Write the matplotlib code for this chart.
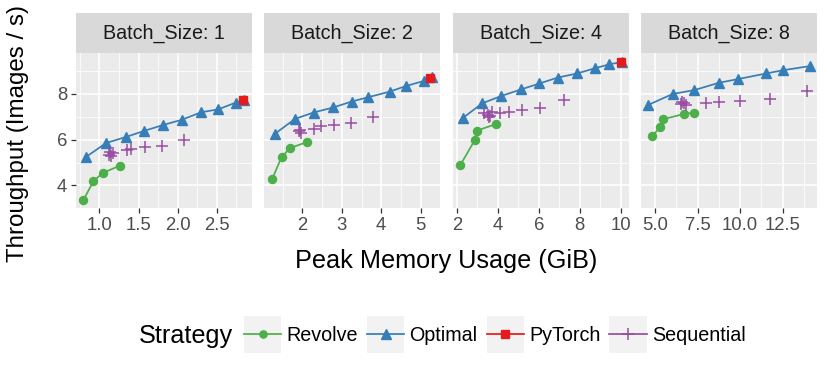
import matplotlib
matplotlib.use("Agg")
import matplotlib.pyplot as plt
from matplotlib.lines import Line2D
from matplotlib.patches import Rectangle
from matplotlib.legend_handler import HandlerLine2D

plt.rcParams['font.family'] = ['Liberation Sans', 'DejaVu Sans']

# ---------------- data ----------------
batch_sizes = [1, 2, 4, 8]
strategies = ["Revolve", "Optimal", "PyTorch", "Sequential"]

revolve_x = [[0.795, 0.923, 1.043, 1.265],
             [1.234, 1.47, 1.69, 2.12],
             [2.17, 2.88, 2.98, 3.89],
             [4.84, 5.30, 5.49, 6.72, 7.31]]
revolve_y = [[3.36, 4.19, 4.55, 4.87],
             [4.29, 5.25, 5.64, 5.90],
             [4.90, 6.00, 6.40, 6.68],
             [6.17, 6.55, 6.90, 7.13, 7.19]]

optimal_x = [[0.83, 1.086, 1.34, 1.575, 1.81, 2.05, 2.30, 2.52, 2.74, 2.85],
             [1.30, 1.81, 2.28, 2.78, 3.25, 3.67, 4.21, 4.63, 5.08, 5.29],
             [2.27, 3.23, 4.15, 5.13, 6.03, 6.93, 7.88, 8.72, 9.45, 10.08],
             [4.59, 6.03, 7.31, 8.75, 9.87, 11.55, 12.53, 14.11]]
optimal_y = [[5.25, 5.86, 6.12, 6.39, 6.64, 6.87, 7.20, 7.33, 7.62, 7.74],
             [6.26, 6.91, 7.19, 7.41, 7.67, 7.86, 8.10, 8.35, 8.57, 8.75],
             [6.94, 7.59, 7.91, 8.20, 8.46, 8.72, 8.90, 9.12, 9.30, 9.40],
             [7.52, 8.00, 8.17, 8.49, 8.65, 8.90, 9.04, 9.22]]

pytorch_x = [[2.83], [5.23], [9.99], []]
pytorch_y = [[7.74], [8.71], [9.40], []]

sequential_x = [[1.12, 1.15, 1.17, 1.14, 1.35, 1.40, 1.58, 1.80, 2.08],
                [1.93, 1.95, 1.92, 2.29, 2.48, 2.79, 3.23, 3.80],
                [3.30, 3.50, 3.60, 3.70, 3.55, 4.10, 4.54, 5.16, 6.06, 7.21],
                [6.50, 6.70, 6.80, 6.60, 8.00, 8.75, 9.97, 11.75, 13.92]]
sequential_y = [[5.35, 5.30, 5.42, 5.45, 5.53, 5.59, 5.67, 5.74, 5.97],
                [6.43, 6.29, 6.36, 6.48, 6.58, 6.65, 6.75, 7.01],
                [7.15, 7.10, 7.05, 7.20, 7.00, 7.16, 7.23, 7.30, 7.38, 7.74],
                [7.55, 7.60, 7.50, 7.65, 7.59, 7.67, 7.71, 7.77, 8.14]]

x_limits = [(0.70, 2.95), (1.03, 5.49), (1.79, 10.39), (4.17, 14.53)]
x_major = [[1.0, 1.5, 2.0, 2.5], [2, 3, 4, 5], [2, 4, 6, 8, 10], [5.0, 7.5, 10.0, 12.5]]
x_ticklabels = [["1.0", "1.5", "2.0", "2.5"], ["2", "3", "4", "5"],
                ["2", "4", "6", "8", "10"], ["5.0", "7.5", "10.0", "12.5"]]
x_minor = [[0.75, 1.25, 1.75, 2.25, 2.75], [1.5, 2.5, 3.5, 4.5, 5.5],
           [3, 5, 7, 9], [6.25, 8.75, 11.25, 13.75]]
y_limits = (3.04, 9.78)
y_major = [4, 6, 8]
y_minor = [3, 5, 7, 9]

colors = {"Revolve": "#4DAF4A", "Optimal": "#377EB8", "PyTorch": "#E41A1C", "Sequential": "#984EA3"}

# ---------------- figure ----------------
W, H = 830, 381
fig = plt.figure(figsize=(W / 100, H / 100), dpi=100)

def px_axes(x0, y0, x1, y1, **kw):
    return fig.add_axes([x0 / W, 1 - y1 / H, (x1 - x0) / W, (y1 - y0) / H], **kw)

panel_left = [76, 264.3, 452.7, 641]
pw = 176
ptop, pbot = 53.3, 208.3
stop = 12.7

TICK_FS = 13.3
STRIP_FS = 14.2
LEG_FS = 14.2
TITLE_FS = 18.2
YLAB_FS = 17.4
LW = 1.25

tick_col = "#4D4D4D"
for i, b in enumerate(batch_sizes):
    x0 = panel_left[i]
    ax = px_axes(x0, ptop, x0 + pw, pbot)
    ax.set_facecolor("#EBEBEB")
    for s in ax.spines.values():
        s.set_visible(False)
    ax.set_xlim(*x_limits[i])
    ax.set_ylim(*y_limits)
    ax.set_xticks(x_major[i])
    ax.set_xticklabels(x_ticklabels[i])
    ax.set_xticks(x_minor[i], minor=True)
    ax.set_yticks(y_major)
    ax.set_yticks(y_minor, minor=True)
    ax.grid(True, which="major", color="white", linewidth=1.1)
    ax.grid(True, which="minor", color="white", linewidth=0.55)
    ax.set_axisbelow(True)
    ax.tick_params(which="major", length=3.4, width=0.9, color="#333333",
                   labelsize=TICK_FS, labelcolor=tick_col, pad=3.0)
    ax.tick_params(which="minor", length=0)
    if i > 0:
        ax.tick_params(axis="y", which="both", left=False, labelleft=False)

    ax.plot(revolve_x[i], revolve_y[i], color=colors["Revolve"], lw=LW,
            marker="o", ms=5.8, zorder=3)
    ax.plot(optimal_x[i], optimal_y[i], color=colors["Optimal"], lw=LW,
            marker="^", ms=7.3, zorder=3)
    if pytorch_x[i]:
        ax.plot(pytorch_x[i], pytorch_y[i], color=colors["PyTorch"], lw=LW,
                marker="s", ms=6.0, zorder=4, linestyle="None")
    ax.plot(sequential_x[i], sequential_y[i], color=colors["Sequential"],
            marker="+", ms=8.6, mew=1.1, linestyle="None", zorder=3)

    sax = px_axes(x0, stop, x0 + pw, ptop)
    sax.set_facecolor("#D9D9D9")
    sax.set_xticks([]); sax.set_yticks([])
    for s in sax.spines.values():
        s.set_visible(False)
    sax.text(0.5, 0.5, f"Batch_Size: {b}", ha="center", va="center",
             fontsize=STRIP_FS, color="#1A1A1A", transform=sax.transAxes)

fig.text(446.5 / W, 1 - 261 / H, "Peak Memory Usage (GiB)", ha="center", va="center",
         fontsize=TITLE_FS, color="black")
fig.text(18 / W, 1 - 134 / H, "Throughput (Images / s)", ha="center", va="center",
         rotation=90, fontsize=YLAB_FS, color="black")

# ---------------- legend ----------------
class KeyHandler(HandlerLine2D):
    def create_artists(self, legend, orig_handle, xdescent, ydescent, width, height, fontsize, trans):
        arts = super().create_artists(legend, orig_handle, xdescent, ydescent, width, height, fontsize, trans)
        cy = -ydescent + height / 2
        r = Rectangle((-xdescent, cy - width / 2), width, width,
                      facecolor="#F2F2F2", edgecolor="none", transform=trans, zorder=-1)
        return [r] + list(arts)

handles = [
    Line2D([], [], color=colors["Revolve"], lw=LW, marker="o", ms=5.2),
    Line2D([], [], color=colors["Optimal"], lw=LW, marker="^", ms=6.5),
    Line2D([], [], color=colors["PyTorch"], lw=LW, marker="s", ms=5.5),
    Line2D([], [], color=colors["Sequential"], lw=LW, marker="+", ms=8.6, mew=1.1),
]
leg = fig.legend(handles, strategies, loc="center left",
                 bbox_to_anchor=(244 / W, 1 - 335.5 / H), ncol=4, frameon=False,
                 fontsize=LEG_FS, handlelength=1.88, handletextpad=0.27,
                 columnspacing=0.46, borderpad=0, borderaxespad=0,
                 handler_map={Line2D: KeyHandler(numpoints=1)})
fig.text(139 / W, 1 - 335.5 / H, "Strategy", ha="left", va="center", fontsize=TITLE_FS)

fig.savefig("out.png", dpi=100)
